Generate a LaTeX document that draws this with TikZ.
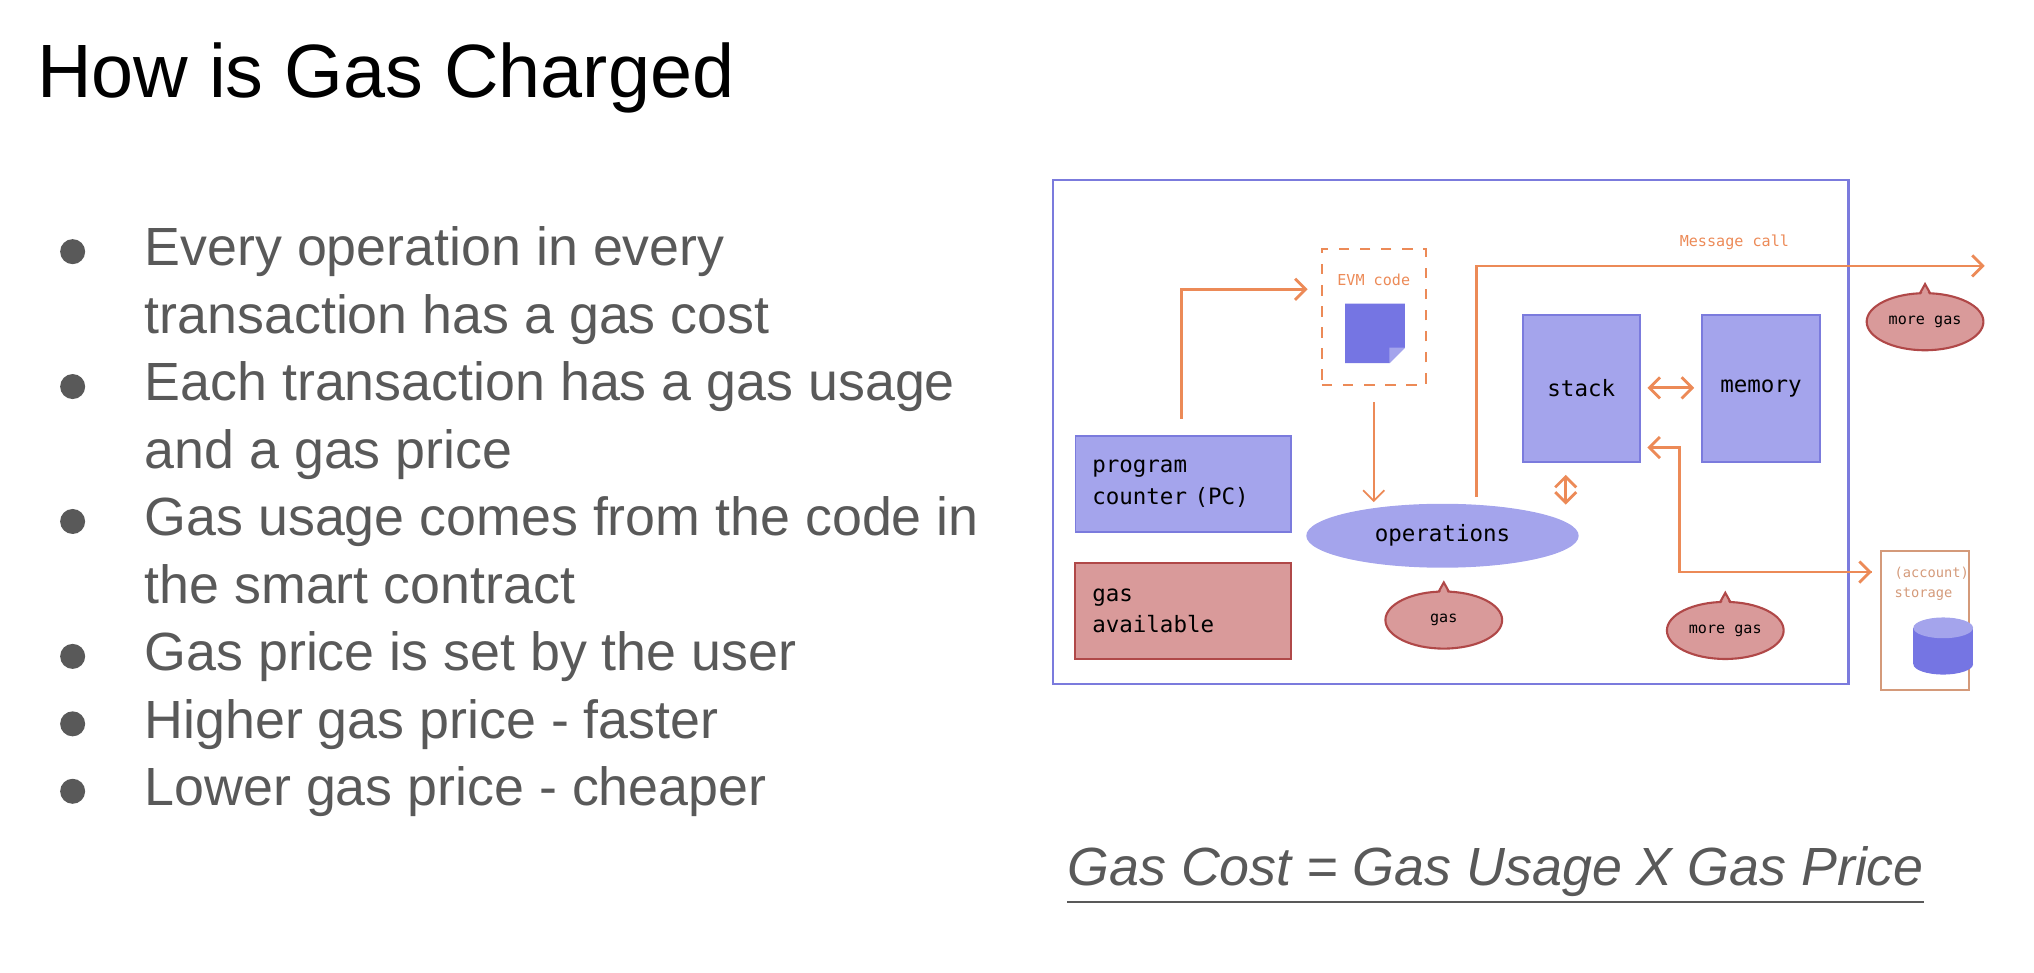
\documentclass[tikz,border=0pt]{standalone}
\usepackage{fontspec}
\setmainfont{Liberation Sans}
\newfontfamily\monof{DejaVu Sans Mono}
\usetikzlibrary{shapes.geometric,arrows.meta}
\definecolor{txt}{HTML}{595959}
\definecolor{vio}{HTML}{A4A4EC}
\definecolor{viob}{HTML}{7B7BDD}
\definecolor{dvio}{HTML}{7575E3}
\definecolor{rosef}{HTML}{D99A9A}
\definecolor{roseb}{HTML}{B04848}
\definecolor{org}{HTML}{EC8A57}
\definecolor{brn}{HTML}{D49A7A}
\begin{document}
\begin{tikzpicture}[x=0.01297cm,y=-0.01297cm,
  bullet/.style={anchor=base west,inner sep=0pt,text=txt,font=\fontsize{15.3}{18}\selectfont},
  box/.style={draw=viob,fill=vio,line width=0.5pt},
  red/.style={draw=roseb,fill=rosef,line width=0.6pt},
  big/.style={font=\monof\fontsize{6.4}{9}\selectfont},
  small/.style={font=\monof\fontsize{4.3}{6}\selectfont},
  conn/.style={draw=org,line width=0.8pt},
  arr/.style={conn,-{Straight Barb[length=3pt,width=6pt]}},
  darr/.style={conn,{Straight Barb[length=3pt,width=6pt]}-{Straight Barb[length=3pt,width=6pt]}}]
\useasboundingbox (0,0) rectangle (1568,750);
\node[anchor=base west,inner sep=0pt,font=\fontsize{21.5}{26}\selectfont] (title) at (28,75) {How is Gas Charged};
\foreach \t/\y [count=\i] in {Every operation in every/205,transaction has a gas cost/257,Each transaction has a gas usage/309,and a gas price/361,Gas usage comes from the code in/413,the smart contract/465,Gas price is set by the user/517,Higher gas price - faster/569,Lower gas price - cheaper/621}
  \node[bullet] (l\i) at (111,\y) {\t};
\foreach \y [count=\i] in {194,298,402,506,558,610}
  \node[circle,fill=txt,inner sep=0pt,minimum size=0.25cm] (d\i) at (56,\y) {};
\node[anchor=base,inner sep=0pt,text=txt,font=\itshape\fontsize{15.3}{18}\selectfont] (formula) at (1153,683) {\underline{Gas Cost = Gas Usage X Gas Price}};
% frame
\node[draw=viob,line width=0.6pt,minimum width=613*0.01297cm,minimum height=388*0.01297cm,inner sep=0pt] (frame) at (1118.5,333) {};
% EVM code
\node[draw=org,dashed,line width=0.5pt,minimum width=80*0.01297cm,minimum height=105*0.01297cm,inner sep=0pt] (evm) at (1059,244.5) {};
\node[small,text=org] (evmt) at (1059,216) {EVM code};
\fill[dvio] (1037,234) -- (1083,234) -- (1083,268) -- (1071,280) -- (1037,280) -- cycle;
\fill[vio] (1083,268) -- (1071,268) -- (1071,280) -- cycle;
% boxes
\node[box,minimum width=90*0.01297cm,minimum height=113*0.01297cm,big] (stack) at (1219,299.5) {stack};
\node[box,minimum width=91*0.01297cm,minimum height=113*0.01297cm,big] (memory) at (1357.5,299.5) {memory};
\node[box,minimum width=166*0.01297cm,minimum height=74*0.01297cm,big,align=left,text width=140*0.01297cm] (pc) at (912,373) {program\\counter (PC)};
\node[red,minimum width=166*0.01297cm,minimum height=74*0.01297cm,big,align=left,text width=140*0.01297cm] (gasav) at (912,471) {gas\\available};
\node[ellipse,fill=vio,minimum width=210*0.01297cm,minimum height=46*0.01297cm,big] (ops) at (1112,413) {operations};
% bubbles
\foreach \n/\x/\y/\t in {b1/1113/478/gas,b2/1330/486/more gas,b3/1484/248/more gas}{
  \fill[red] (\x-5,\y-20) -- (\x,\y-29) -- (\x+5,\y-20) -- cycle;
  \node[ellipse,red,minimum width=90*0.01297cm,minimum height=44*0.01297cm,inner sep=0pt,small] (\n) at (\x,\y) {\t};
  \fill[rosef] (\x-4.3,\y-19) -- (\x,\y-26) -- (\x+4.3,\y-19) -- cycle;
}
% storage
\node[draw=brn,line width=0.6pt,minimum width=68*0.01297cm,minimum height=107*0.01297cm,inner sep=0pt] (stor) at (1484,478.5) {};
\node[text=brn,font=\monof\fontsize{3.9}{5.5}\selectfont,anchor=west,align=left,inner sep=0pt] (stort) at (1460,450) {(account)\\storage};
\fill[dvio] (1475,484) rectangle (1521,512);
\fill[dvio] (1498,512) ellipse [x radius=23,y radius=8];
\fill[vio] (1498,484) ellipse [x radius=23,y radius=8];
% connectors
\coordinate (pcs) at (911,323);
\draw[arr] (pcs) |- (1008,223);
\draw[conn,line width=0.5pt,-{Straight Barb[length=3pt,width=6pt]}] (1059,310) -- (1059,387);
\coordinate (mcs) at (1138,383);
\coordinate (mce) at (1530,205);
\draw[arr] (mcs) |- (mce);
\node[small,text=org] (mct) at (1337,187) {Message call};
\draw[darr] (1270,299) -- (1306,299);
\draw[darr] (1207,366) -- (1207,389);
\draw[conn,{Straight Barb[length=3pt,width=6pt]}-] (1270,345) -- (1295,345) |- (1443,441);
\draw[arr] (1440,441) -- (1443,441);
\end{tikzpicture}
\end{document}
